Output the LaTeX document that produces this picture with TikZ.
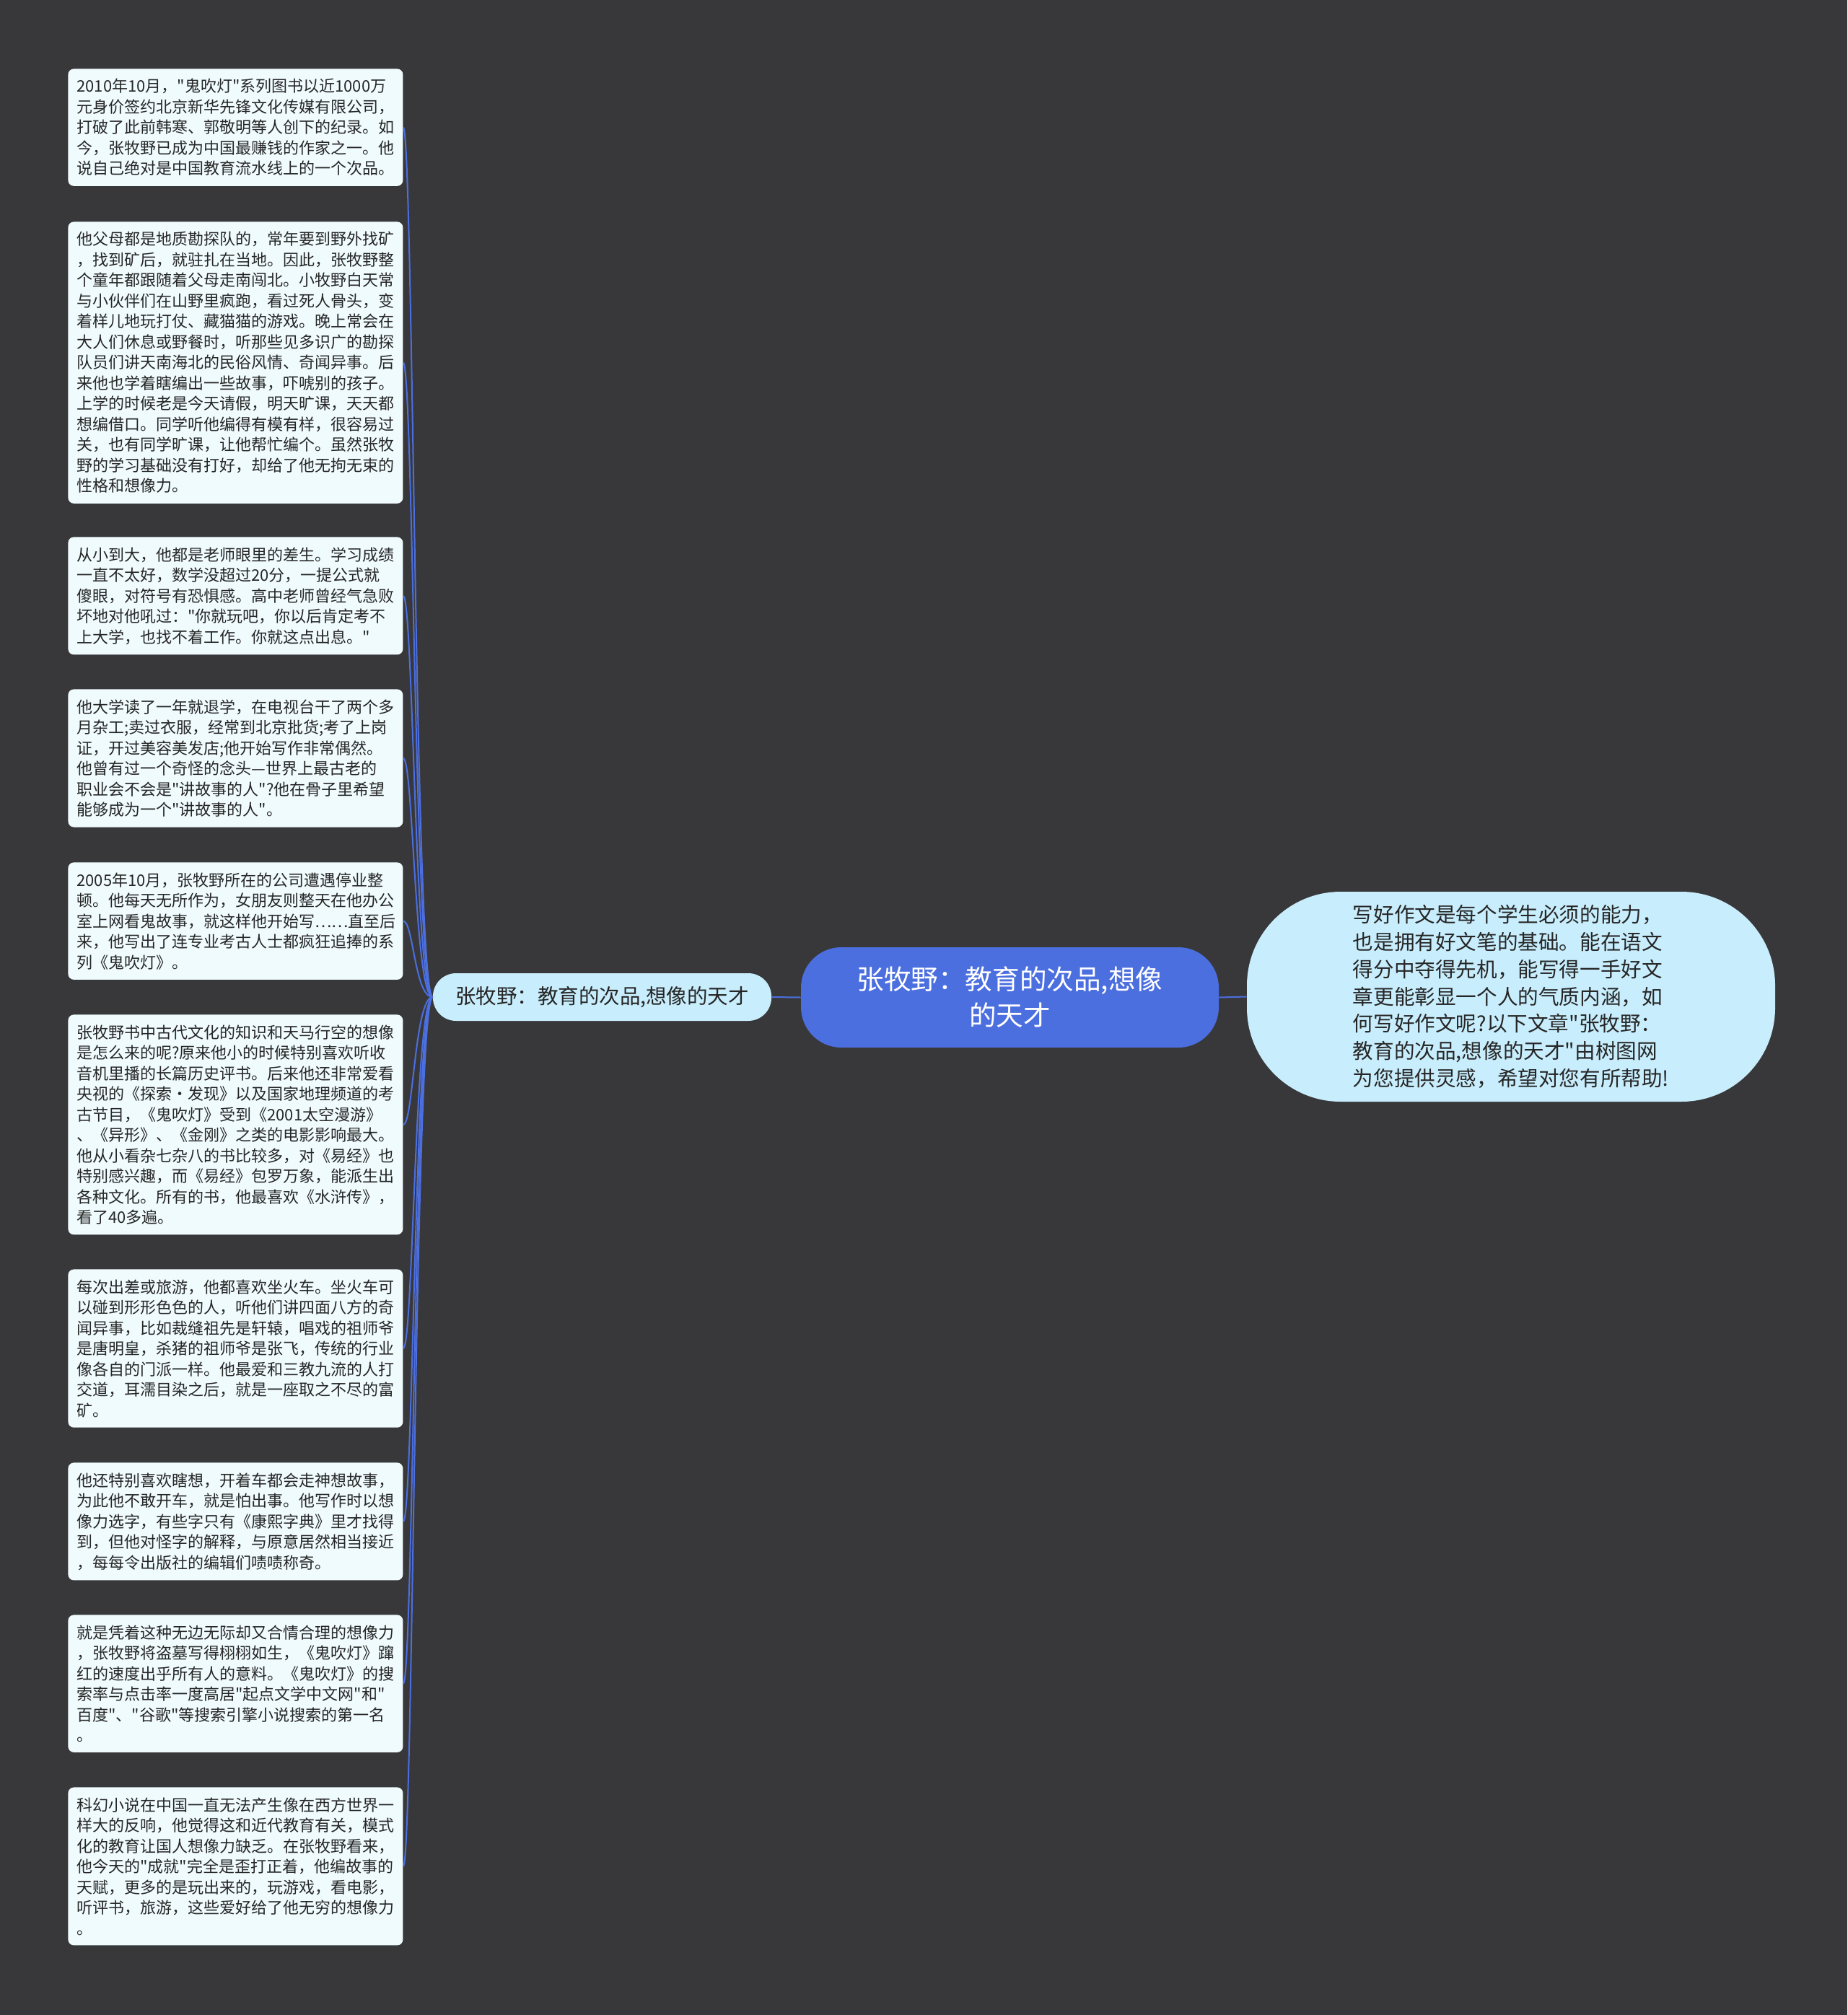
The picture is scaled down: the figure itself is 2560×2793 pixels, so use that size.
\documentclass[tikz,border=0pt]{standalone}
\usepackage{fontspec}
\newfontfamily\cjk{Noto Sans CJK SC}
\definecolor{bgcolor}{RGB}{56,56,58}
\definecolor{rootblue}{RGB}{76,111,224}
\definecolor{palecyan}{RGB}{240,251,254}
\definecolor{lightcyan}{RGB}{200,237,252}
\definecolor{darktext}{RGB}{38,38,38}
\lineskiplimit=-\maxdimen
\tikzset{
  leafnode/.style = {anchor=north west, align=left, text width=220pt,
    inner xsep=6pt, inner ysep=7pt, fill=palecyan, rounded corners=4pt,
    text=darktext, font=\cjk\fontsize{11pt}{14.25pt}\selectfont},
  subnode/.style = {fill=lightcyan, text=darktext, rounded corners=16pt,
    minimum width=234.5pt, minimum height=33pt, inner sep=0pt,
    font=\cjk\fontsize{14.25pt}{17pt}\selectfont},
  rootnode/.style = {fill=rootblue, text=white, align=center,
    rounded corners=28pt, minimum width=289.5pt, minimum height=69.5pt,
    inner sep=0pt, font=\cjk\fontsize{18.8pt}{25pt}\selectfont},
  notenode/.style = {fill=lightcyan, text=darktext, align=left,
    rounded corners=65pt, minimum width=366pt, minimum height=145.5pt,
    inner sep=0pt, font=\cjk\fontsize{14.3pt}{18.9pt}\selectfont},
  linkline/.style = {draw=rootblue, line width=1pt},
}

\begin{document}
\begin{tikzpicture}[x=0.5pt, y=-0.5pt]
    \fill[bgcolor] (0,0) rectangle (2560,2793);

    \node [rootnode] (root) at (1399.5,1382.5) {张牧野：教育的次品,想像\\的天才};
    \node [subnode] (sub) at (834.5,1382) {张牧野：教育的次品,想像的天才};
    \node [notenode] (note) at (2094,1381.5) {写好作文是每个学生必须的能力，\\
      也是拥有好文笔的基础。能在语文\\
      得分中夺得先机，能写得一手好文\\
      章更能彰显一个人的气质内涵，如\\
      何写好作文呢?以下文章"张牧野：\\
      教育的次品,想像的天才"由树图网\\
      为您提供灵感，希望对您有所帮助!};

    \node [leafnode] (b1) at (94,95) {2010年10月，"鬼吹灯"系列图书以近1000万\\
      元身价签约北京新华先锋文化传媒有限公司，\\
      打破了此前韩寒、郭敬明等人创下的纪录。如\\
      今，张牧野已成为中国最赚钱的作家之一。他\\
      说自己绝对是中国教育流水线上的一个次品。};
    \node [leafnode] (b2) at (94,307) {他父母都是地质勘探队的，常年要到野外找矿\\
      ，找到矿后，就驻扎在当地。因此，张牧野整\\
      个童年都跟随着父母走南闯北。小牧野白天常\\
      与小伙伴们在山野里疯跑，看过死人骨头，变\\
      着样儿地玩打仗、藏猫猫的游戏。晚上常会在\\
      大人们休息或野餐时，听那些见多识广的勘探\\
      队员们讲天南海北的民俗风情、奇闻异事。后\\
      来他也学着瞎编出一些故事，吓唬别的孩子。\\
      上学的时候老是今天请假，明天旷课，天天都\\
      想编借口。同学听他编得有模有样，很容易过\\
      关，也有同学旷课，让他帮忙编个。虽然张牧\\
      野的学习基础没有打好，却给了他无拘无束的\\
      性格和想像力。};
    \node [leafnode] (b3) at (94,744) {从小到大，他都是老师眼里的差生。学习成绩\\
      一直不太好，数学没超过20分，一提公式就\\
      傻眼，对符号有恐惧感。高中老师曾经气急败\\
      坏地对他吼过："你就玩吧，你以后肯定考不\\
      上大学，也找不着工作。你就这点出息。"};
    \node [leafnode] (b4) at (94,955) {他大学读了一年就退学，在电视台干了两个多\\
      月杂工;卖过衣服，经常到北京批货;考了上岗\\
      证，开过美容美发店;他开始写作非常偶然。\\
      他曾有过一个奇怪的念头—世界上最古老的\\
      职业会不会是"讲故事的人"?他在骨子里希望\\
      能够成为一个"讲故事的人"。};
    \node [leafnode] (b5) at (94,1195) {2005年10月，张牧野所在的公司遭遇停业整\\
      顿。他每天无所作为，女朋友则整天在他办公\\
      室上网看鬼故事，就这样他开始写……直至后\\
      来，他写出了连专业考古人士都疯狂追捧的系\\
      列《鬼吹灯》。};
    \node [leafnode] (b6) at (94,1406) {张牧野书中古代文化的知识和天马行空的想像\\
      是怎么来的呢?原来他小的时候特别喜欢听收\\
      音机里播的长篇历史评书。后来他还非常爱看\\
      央视的《探索·发现》以及国家地理频道的考\\
      古节目，《鬼吹灯》受到《2001太空漫游》\\
      、《异形》、《金刚》之类的电影影响最大。\\
      他从小看杂七杂八的书比较多，对《易经》也\\
      特别感兴趣，而《易经》包罗万象，能派生出\\
      各种文化。所有的书，他最喜欢《水浒传》，\\
      看了40多遍。};
    \node [leafnode] (b7) at (94,1759) {每次出差或旅游，他都喜欢坐火车。坐火车可\\
      以碰到形形色色的人，听他们讲四面八方的奇\\
      闻异事，比如裁缝祖先是轩辕，唱戏的祖师爷\\
      是唐明皇，杀猪的祖师爷是张飞，传统的行业\\
      像各自的门派一样。他最爱和三教九流的人打\\
      交道，耳濡目染之后，就是一座取之不尽的富\\
      矿。};
    \node [leafnode] (b8) at (94,2027) {他还特别喜欢瞎想，开着车都会走神想故事，\\
      为此他不敢开车，就是怕出事。他写作时以想\\
      像力选字，有些字只有《康熙字典》里才找得\\
      到，但他对怪字的解释，与原意居然相当接近\\
      ，每每令出版社的编辑们啧啧称奇。};
    \node [leafnode] (b9) at (94,2238) {就是凭着这种无边无际却又合情合理的想像力\\
      ，张牧野将盗墓写得栩栩如生，《鬼吹灯》蹿\\
      红的速度出乎所有人的意料。《鬼吹灯》的搜\\
      索率与点击率一度高居"起点文学中文网"和"\\
      百度"、"谷歌"等搜索引擎小说搜索的第一名\\
      。};
    \node [leafnode] (b10) at (94,2477) {科幻小说在中国一直无法产生像在西方世界一\\
      样大的反响，他觉得这和近代教育有关，模式\\
      化的教育让国人想像力缺乏。在张牧野看来，\\
      他今天的"成就"完全是歪打正着，他编故事的\\
      天赋，更多的是玩出来的，玩游戏，看电影，\\
      听评书，旅游，这些爱好给了他无穷的想像力\\
      。};

    \draw [linkline] (root.east) -- (note.west);
    \draw [linkline] (sub.east) -- (root.west);
    \draw [linkline] (sub.west) .. controls +(-25,0) and +(14,0) .. (b1.east);
    \draw [linkline] (sub.west) .. controls +(-25,0) and +(14,0) .. (b2.east);
    \draw [linkline] (sub.west) .. controls +(-25,0) and +(14,0) .. (b3.east);
    \draw [linkline] (sub.west) .. controls +(-25,0) and +(14,0) .. (b4.east);
    \draw [linkline] (sub.west) .. controls +(-25,0) and +(14,0) .. (b5.east);
    \draw [linkline] (sub.west) .. controls +(-25,0) and +(14,0) .. (b6.east);
    \draw [linkline] (sub.west) .. controls +(-25,0) and +(14,0) .. (b7.east);
    \draw [linkline] (sub.west) .. controls +(-25,0) and +(14,0) .. (b8.east);
    \draw [linkline] (sub.west) .. controls +(-25,0) and +(14,0) .. (b9.east);
    \draw [linkline] (sub.west) .. controls +(-25,0) and +(14,0) .. (b10.east);
\end{tikzpicture}
\end{document}
